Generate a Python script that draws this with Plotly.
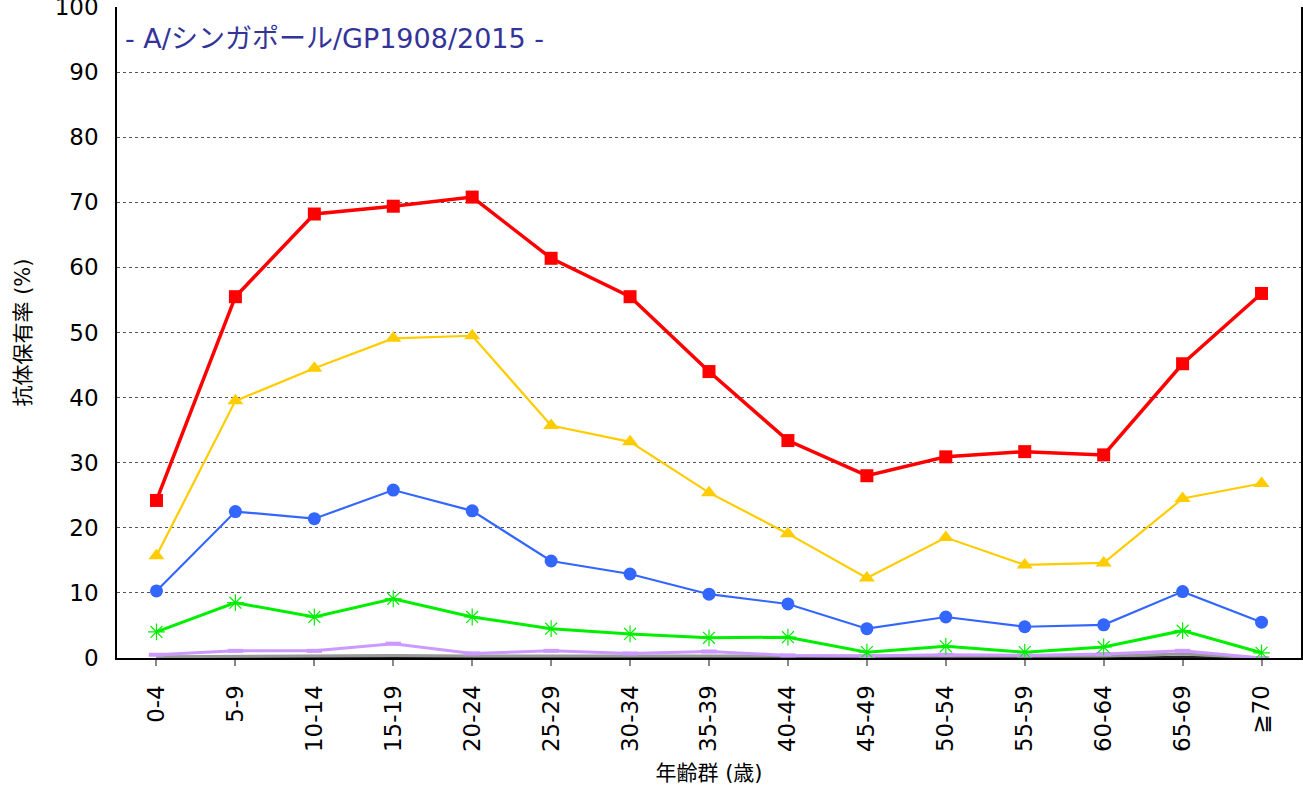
import plotly.graph_objects as go

categories = ["0-4", "5-9", "10-14", "15-19", "20-24", "25-29", "30-34", "35-39",
              "40-44", "45-49", "50-54", "55-59", "60-64", "65-69", "≧70"]

red_vals = [24.2, 55.5, 68.2, 69.4, 70.8, 61.4, 55.5, 44.0, 33.4, 28.0, 30.9, 31.7, 31.2, 45.2, 56.0]
yellow_vals = [15.7, 39.5, 44.5, 49.1, 49.5, 35.7, 33.2, 25.4, 19.1, 12.3, 18.5, 14.3, 14.6, 24.5, 26.8]
blue_vals = [10.3, 22.5, 21.4, 25.8, 22.6, 14.9, 12.9, 9.8, 8.3, 4.5, 6.3, 4.8, 5.1, 10.2, 5.5]
green_vals = [4.0, 8.5, 6.3, 9.1, 6.3, 4.5, 3.7, 3.1, 3.2, 0.9, 1.8, 0.9, 1.7, 4.2, 0.8]
purple_vals = [0.5, 1.1, 1.1, 2.2, 0.7, 1.1, 0.7, 1.0, 0.4, 0.3, 0.5, 0.4, 0.6, 1.1, 0.0]
gray_vals = [0.2, 0.3, 0.3, 0.4, 0.3, 0.3, 0.3, 0.3, 0.3, 0.2, 0.3, 0.2, 0.3, 0.6, 0.0]
black_vals = [0.0, 0.1, 0.1, 0.1, 0.0, 0.0, 0.0, 0.0, 0.0, 0.0, 0.0, 0.0, 0.0, 0.2, 0.0]

title_text = "- A/シンガポール/GP1908/2015 -"
y_title = "抗体保有率 (%)"
x_title = "年齢群 (歳)"

FONT = "Verdana, 'DejaVu Sans', 'Noto Sans CJK JP', sans-serif"

fig = go.Figure()

fig.add_trace(go.Scatter(x=categories, y=black_vals, mode="lines",
                         line=dict(color="#222222", width=2), showlegend=False))
fig.add_trace(go.Scatter(x=categories, y=gray_vals, mode="lines",
                         line=dict(color="#999999", width=3), showlegend=False))
fig.add_trace(go.Scatter(x=categories, y=purple_vals, mode="lines+markers",
                         line=dict(color="#CC99FF", width=3),
                         marker=dict(symbol="line-ew-open", size=11,
                                     line=dict(color="#CC99FF", width=4)),
                         showlegend=False))
fig.add_trace(go.Scatter(x=categories, y=green_vals, mode="lines+markers",
                         line=dict(color="#00EE00", width=3),
                         marker=dict(symbol="asterisk-open", size=14,
                                     line=dict(color="#00EE00", width=1.2)),
                         showlegend=False))
fig.add_trace(go.Scatter(x=categories, y=blue_vals, mode="lines+markers",
                         line=dict(color="#3366FF", width=2.2),
                         marker=dict(symbol="circle", size=13, color="#3366FF"),
                         showlegend=False))
fig.add_trace(go.Scatter(x=categories, y=yellow_vals, mode="lines+markers",
                         line=dict(color="#FFCC00", width=2.2),
                         marker=dict(symbol="triangle-up", size=14, color="#FFCC00"),
                         showlegend=False))
fig.add_trace(go.Scatter(x=categories, y=red_vals, mode="lines+markers",
                         line=dict(color="#FF0000", width=3.5),
                         marker=dict(symbol="square", size=13, color="#FF0000"),
                         showlegend=False))

fig.add_annotation(text=title_text, xref="paper", yref="paper", x=0.005, y=0.951,
                   xanchor="left", yanchor="middle", showarrow=False,
                   font=dict(family=FONT, size=27, color="#333399"))

fig.update_layout(
    width=1303, height=787,
    margin=dict(l=117, r=2, t=7, b=129, autoexpand=False),
    paper_bgcolor="white", plot_bgcolor="white",
    font=dict(family=FONT, color="black"),
    xaxis=dict(
        type="category", range=[-0.5, 14.5],
        showline=True, linecolor="black", linewidth=2, mirror=False,
        ticks="outside", ticklen=6, tickcolor="#888888", tickwidth=1.5,
        ticklabelstandoff=10,
        tickangle=-90, tickfont=dict(size=23, family=FONT),
        showgrid=False, zeroline=False, automargin=False,
        title=dict(text=x_title, font=dict(size=21, family=FONT), standoff=14),
    ),
    yaxis=dict(
        range=[0, 100], dtick=10,
        showline=True, linecolor="black", linewidth=1.5, mirror=True,
        ticks="outside", ticklen=12, tickcolor="rgba(0,0,0,0)",
        tickfont=dict(size=23, family=FONT), ticklabeloverflow="allow",
        showgrid=True, gridcolor="#555555", griddash="dot", gridwidth=1,
        zeroline=False, automargin=False,
        title=dict(text=y_title, font=dict(size=21, family=FONT), standoff=18),
    ),
)

fig.write_html("out.html", config={"displayModeBar": False},
               post_script="document.body.style.margin='0px';")
